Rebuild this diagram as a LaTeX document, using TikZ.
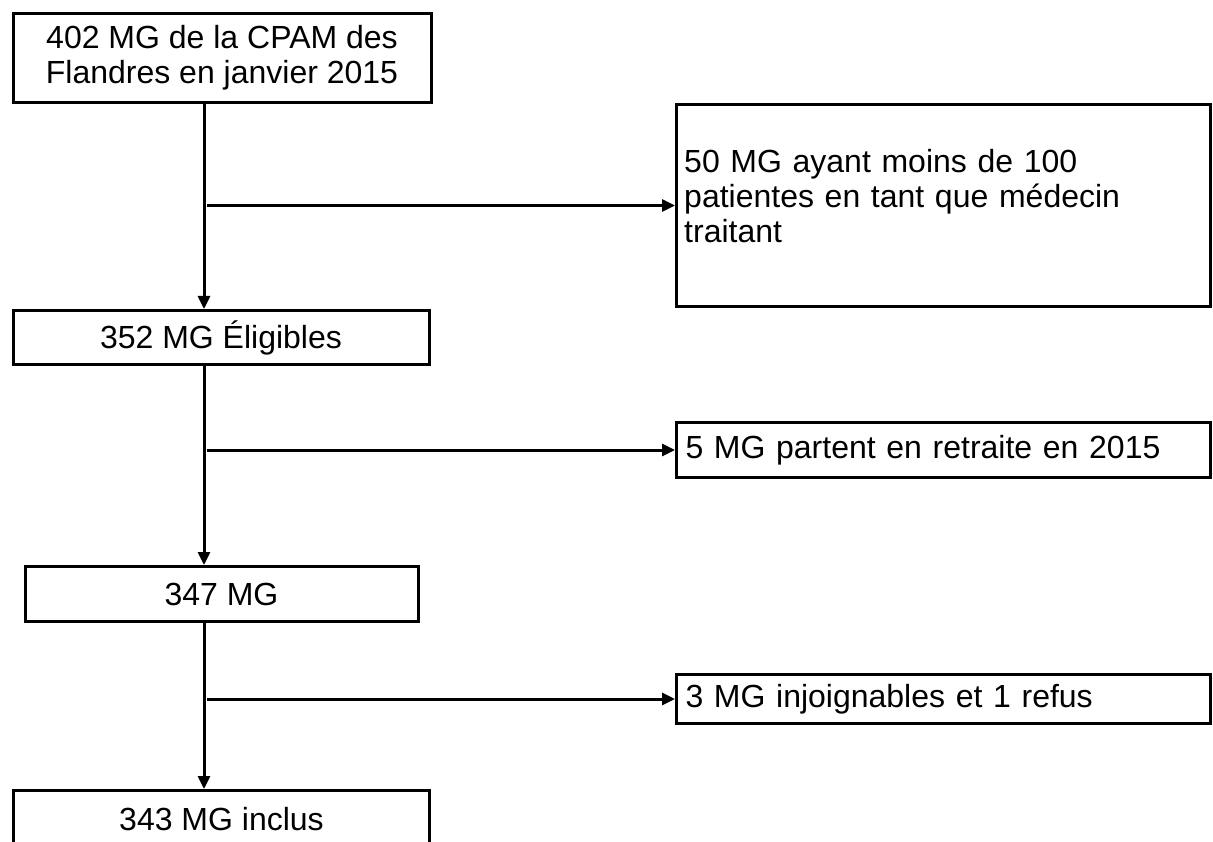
\documentclass[tikz,border=0pt]{standalone}
\usepackage{fontspec}
\setmainfont{Liberation Sans}
\usetikzlibrary{arrows.meta}
\newcommand{\fsz}{\fontsize{32}{35}\selectfont}
\tikzset{
  box/.style={draw, line width=3pt, inner sep=0pt, anchor=north west, font=\fsz, align=center},
  sidebox/.style={box, minimum width=534pt, text width=516pt, inner xsep=9pt, align=left},
  sidetext/.style={inner sep=0pt, font=\fsz, align=left, text width=516pt},
  arr/.style={line width=3pt, -{Triangle[length=13pt,width=12pt]}}
}
\begin{document}
\begin{tikzpicture}[x=1pt,y=-1pt]
\clip (0,0) rectangle (1213,842);
\fill[white] (0,0) rectangle (1213,842);
\node[box, minimum width=418pt, minimum height=89pt] (b1) at (11.5,12) {402 MG de la CPAM des\\Flandres en janvier 2015};
\node[box, minimum width=416pt, minimum height=54pt] (b2) at (11.5,309) {352 MG Éligibles};
\node[box, minimum width=393pt, minimum height=55pt] (b3) at (23.5,565) {347 MG};
\node[box, minimum width=416pt, minimum height=57pt] (b4) at (12,789) {343 MG inclus};
\node[sidebox, minimum height=202pt] (r1) at (675,103) {};
\node[sidetext, anchor=west] (r1t) at ([xshift=9pt,yshift=9pt]r1.west) {50 MG ayant moins de 100\\patientes en tant que médecin\\traitant};
\node[sidebox, minimum height=55pt] (r2) at (675,421) {5 MG partent en retraite en 2015};
\node[sidebox, minimum height=49pt] (r3) at (675,673) {3 MG injoignables et 1 refus};
\coordinate (vx) at (204,0);
\coordinate (hx) at (207,0);
\draw[arr] (b1.south -| vx) -- (b2.north -| vx);
\draw[arr] (b2.south -| vx) -- (b3.north -| vx);
\draw[arr] (b3.south -| vx) -- (b4.north -| vx);
\draw[arr] (r1.west -| hx) -- (r1.west);
\draw[arr] (r2.west -| hx) -- (r2.west);
\draw[arr] (r3.west -| hx) -- (r3.west);
\end{tikzpicture}
\end{document}
